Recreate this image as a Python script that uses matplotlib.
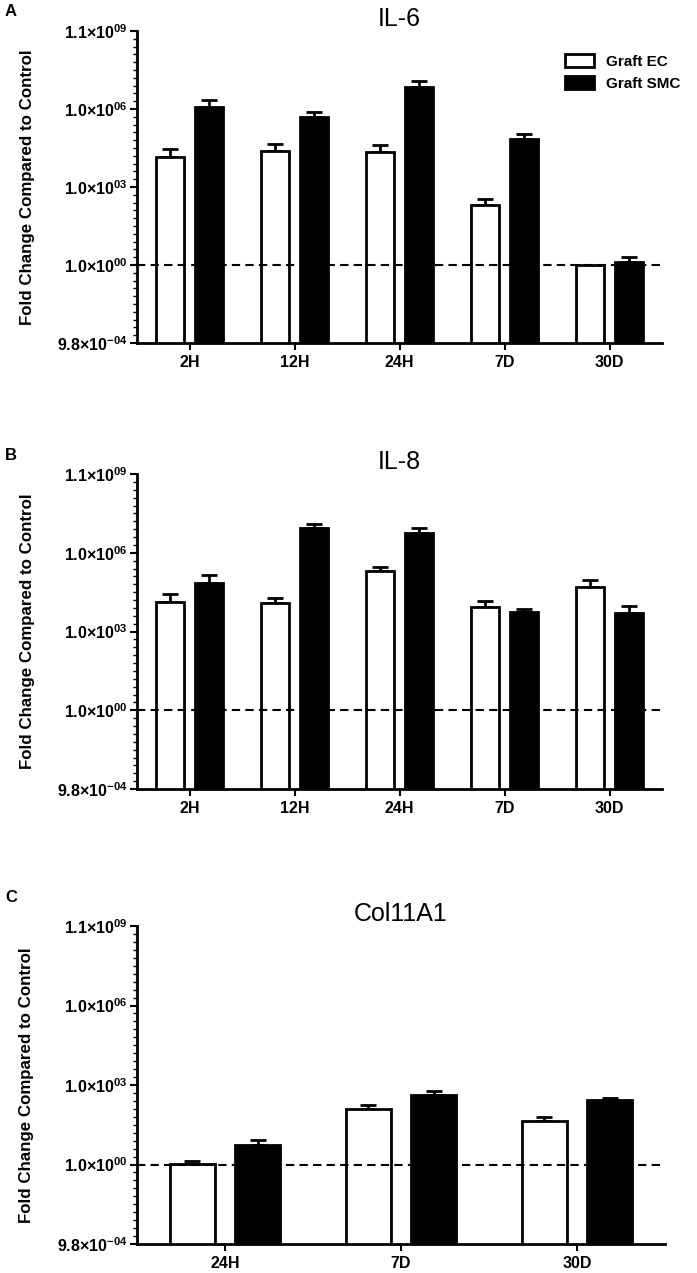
import numpy as np
import matplotlib
matplotlib.use('Agg')
import matplotlib.pyplot as plt
from matplotlib.patches import Patch
from matplotlib.ticker import FixedLocator, NullFormatter

plt.rcParams['font.family'] = ['Liberation Sans', 'DejaVu Sans']
plt.rcParams['mathtext.fontset'] = 'custom'
plt.rcParams['mathtext.rm'] = 'Liberation Sans:bold'
plt.rcParams['mathtext.it'] = 'Liberation Sans:bold'
plt.rcParams['mathtext.bf'] = 'Liberation Sans:bold'

# data, log2 of fold change (mean and top of error bar)
cats5 = ['2H', '12H', '24H', '7D', '30D']
cats3 = ['24H', '7D', '30D']

il6_ec = [13.8, 14.6, 14.5, 7.7, 0.0]
il6_ec_err = [14.9, 15.5, 15.4, 8.5, 0.0]
il6_smc = [20.3, 19.0, 22.8, 16.2, 0.4]
il6_smc_err = [21.2, 19.6, 23.6, 16.8, 1.0]

il8_ec = [13.8, 13.6, 17.7, 13.1, 15.6]
il8_ec_err = [14.7, 14.3, 18.2, 13.9, 16.5]
il8_smc = [16.2, 23.1, 22.5, 12.5, 12.4]
il8_smc_err = [17.2, 23.6, 23.2, 12.9, 13.2]

col_ec = [0.05, 6.95, 5.5]
col_ec_err = [0.5, 7.5, 5.95]
col_smc = [2.4, 8.75, 8.1]
col_smc_err = [3.1, 9.3, 8.4]

ytick_pos = [-10, 0, 10, 20, 30]
ytick_lab = ['9.8×10$^{-04}$', '1.0×10$^{00}$', '1.0×10$^{03}$',
             '1.0×10$^{06}$', '1.1×10$^{09}$']

W, H = 697, 1273
fig = plt.figure(figsize=(W / 100, H / 100), dpi=100)


def make_axes(left, right, top, bottom):
    return fig.add_axes([left / W, 1 - bottom / H, (right - left) / W, (bottom - top) / H])


def panel(ax, title, cats, ec, ec_err, smc, smc_err):
    x = np.arange(len(cats))
    base = 2.0 ** -10
    bw = 0.26
    off = 0.185
    ec_v = 2.0 ** np.array(ec)
    smc_v = 2.0 ** np.array(smc)
    ax.bar(x - off, ec_v - base, bottom=base, width=bw, color='white',
           edgecolor='black', linewidth=2, zorder=3)
    ax.bar(x + off, smc_v - base, bottom=base, width=bw, color='black',
           edgecolor='black', linewidth=2, zorder=3)
    up_ec = 2.0 ** np.array(ec_err) - ec_v
    up_smc = 2.0 ** np.array(smc_err) - smc_v
    for xs, v, up in [(x - off, ec_v, up_ec), (x + off, smc_v, up_smc)]:
        m = up > 0
        ax.errorbar(xs[m], v[m], yerr=[np.zeros(m.sum()), up[m]], fmt='none',
                    ecolor='black', elinewidth=2, capsize=6, capthick=2, zorder=2)
    ax.axhline(1.0, color='black', linestyle=(0, (4, 2.5)), linewidth=1.5, zorder=4)

    ax.set_yscale('log', base=2)
    ax.set_ylim(2.0 ** -10, 2.0 ** 30)
    ax.set_xlim(-0.5, len(cats) - 0.5)
    ax.yaxis.set_major_locator(FixedLocator([2.0 ** p for p in ytick_pos]))
    ax.yaxis.set_minor_locator(FixedLocator([2.0 ** p for p in range(-10, 31)]))
    ax.yaxis.set_minor_formatter(NullFormatter())
    ax.set_yticklabels(ytick_lab)
    ax.set_xticks(x)
    ax.set_xticklabels(cats)
    ax.tick_params(axis='both', which='major', labelsize=11.5, width=1.5, length=5)
    ax.tick_params(axis='y', which='major', pad=2)
    ax.tick_params(axis='y', which='minor', width=1, length=3)
    for lab in ax.get_xticklabels() + ax.get_yticklabels():
        lab.set_fontweight('bold')
    for s in ['top', 'right']:
        ax.spines[s].set_visible(False)
    for s in ['left', 'bottom']:
        ax.spines[s].set_linewidth(2)
    ax.set_ylabel('Fold Change Compared to Control', fontsize=12.2,
                  fontweight='bold')
    ax.yaxis.set_label_coords(-0.195, 0.5)
    ax.set_title(title, fontsize=18, family=['Liberation Sans Narrow', 'Liberation Sans'],
                 pad=2)


axA = make_axes(137, 662, 31, 343)
panel(axA, 'IL-6', cats5, il6_ec, il6_ec_err, il6_smc, il6_smc_err)
axB = make_axes(137, 662, 474, 789)
panel(axB, 'IL-8', cats5, il8_ec, il8_ec_err, il8_smc, il8_smc_err)
axB.title.set_y(0.96)
axC = make_axes(137, 665, 926, 1244)
panel(axC, 'Col11A1', cats3, col_ec, col_ec_err, col_smc, col_smc_err)
axC.title.set_y(0.96)

fig.text(5 / W, 1 - 12 / H, 'A', fontsize=12, fontweight='bold', va='center')
fig.text(5 / W, 1 - 455 / H, 'B', fontsize=12, fontweight='bold', va='center')
fig.text(5 / W, 1 - 897 / H, 'C', fontsize=12, fontweight='bold', va='center')

handles = [Patch(facecolor='white', edgecolor='black', linewidth=2),
           Patch(facecolor='black', edgecolor='black', linewidth=2)]
fig.legend(handles, ['Graft EC', 'Graft SMC'], loc='upper right',
           bbox_to_anchor=(694 / W, 1 - 40 / H), frameon=False,
           prop={'weight': 'bold', 'size': 11}, handlelength=1.9,
           handleheight=1.0, labelspacing=0.45, handletextpad=0.8)

fig.savefig('out.png', dpi=100)
